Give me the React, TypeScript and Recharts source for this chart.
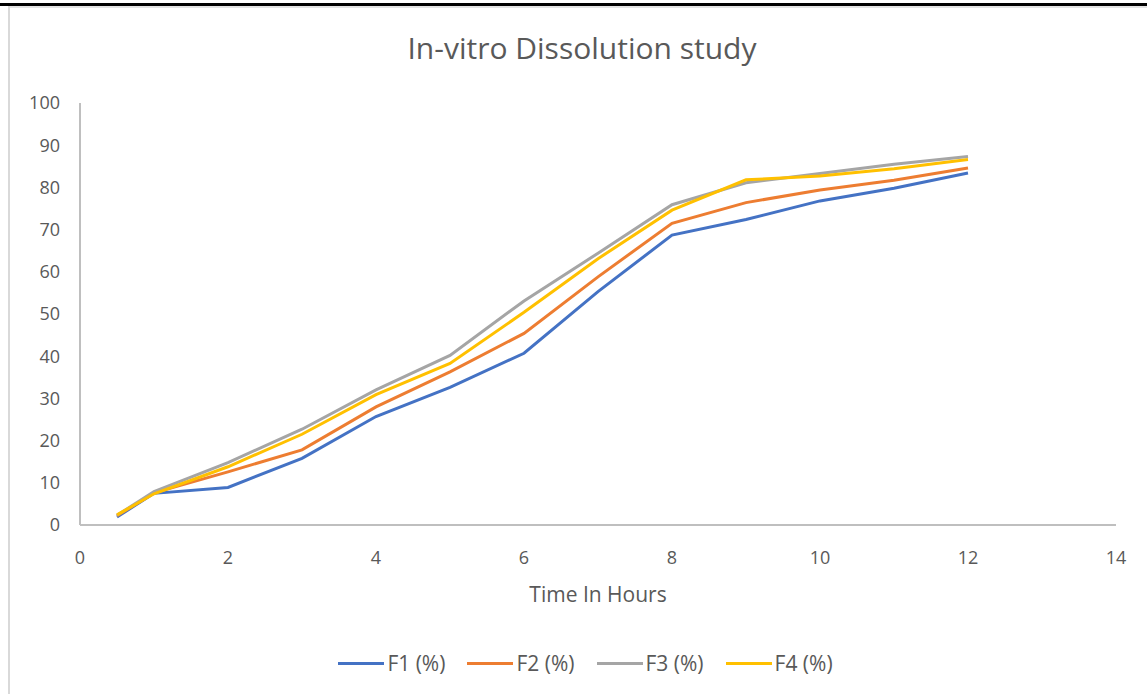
import { LineChart, Line, XAxis, YAxis, Legend, Label } from "recharts";

const hours = [0.5, 1, 2, 3, 4, 5, 6, 7, 8, 9, 10, 11, 12];
const f1 = [1.9, 7.5, 8.9, 15.8, 25.7, 32.6, 40.7, 55.3, 68.7, 72.4, 76.8, 79.8, 83.4];
const f2 = [2.2, 7.6, 12.6, 17.8, 28.0, 36.3, 45.4, 58.8, 71.5, 76.4, 79.4, 81.7, 84.6];
const f3 = [2.3, 7.9, 14.8, 22.7, 32.0, 40.2, 53.1, 64.4, 75.9, 81.1, 83.3, 85.5, 87.3];
const f4 = [2.4, 7.4, 13.8, 21.5, 30.9, 38.3, 50.4, 63.1, 74.6, 81.8, 82.7, 84.4, 86.6];
const xTicks = [0, 2, 4, 6, 8, 10, 12, 14];
const yTicks = [0, 10, 20, 30, 40, 50, 60, 70, 80, 90, 100];

const seriesNames = ["F1 (%)", "F2 (%)", "F3 (%)", "F4 (%)"];
const seriesColors = ["#4472C4", "#ED7D31", "#A5A5A5", "#FFC000"];

const rows = hours.map((h, i) => ({ h, f1: f1[i], f2: f2[i], f3: f3[i], f4: f4[i] }));
const keys = ["f1", "f2", "f3", "f4"];

const font = "'Open Sans', sans-serif";
const textGrey = "#595959";

function LegendRow() {
  return (
    <div style={{ display: "flex", justifyContent: "center", gap: 22, fontFamily: font, fontSize: 21, color: textGrey, paddingLeft: 24 }}>
      {seriesNames.map((name, i) => (
        <div key={name} style={{ display: "flex", alignItems: "center" }}>
          <span style={{ width: 46, height: 3, background: seriesColors[i], display: "inline-block", marginRight: 3 }} />
          <span>{name}</span>
        </div>
      ))}
    </div>
  );
}

export default function App() {
  return (
    <div style={{ position: "absolute", left: 0, top: 0, width: 1147, height: 694, background: "#fff", overflow: "hidden" }}>
      {/* cropped page edge above the chart */}
      <div style={{ position: "absolute", left: 0, top: 3, width: 1147, height: 3, background: "#000" }} />
      <div style={{ position: "absolute", left: 8, top: 6, width: 1139, height: 2, background: "#e3e3e3" }} />
      <div style={{ position: "absolute", left: 8, top: 6, width: 2, height: 688, background: "#d9d9d9" }} />
      <div
        style={{
          position: "absolute",
          left: 0,
          top: 27,
          width: 1164,
          textAlign: "center",
          fontFamily: font,
          fontSize: 30,
          color: textGrey,
        }}
      >
        In-vitro Dissolution study
      </div>
      <LineChart width={1147} height={694} data={rows} margin={{ top: 103, right: 31, left: 0, bottom: 79 }}>
        <XAxis
          dataKey="h"
          type="number"
          domain={[0, 14]}
          ticks={xTicks}
          height={50}
          tickLine={false}
          tickMargin={20}
          stroke="#BFBFBF"
          strokeWidth={2}
          tick={{ fill: textGrey, fontSize: 18, fontFamily: font }}
        >
          <Label value="Time In Hours" position="bottom" offset={12} style={{ fill: textGrey, fontSize: 21, fontFamily: font }} />
        </XAxis>
        <YAxis
          type="number"
          domain={[0, 100]}
          ticks={yTicks}
          width={80}
          tickLine={false}
          tickMargin={14}
          stroke="#BFBFBF"
          strokeWidth={2}
          tick={{ fill: textGrey, fontSize: 18, fontFamily: font }}
        />
        {keys.map((k, i) => (
          <Line
            key={k}
            dataKey={k}
            name={seriesNames[i]}
            stroke={seriesColors[i]}
            strokeWidth={3}
            dot={false}
            isAnimationActive={false}
          />
        ))}
        <Legend height={40} wrapperStyle={{ bottom: 5, left: 0, width: 1147 }} content={() => <LegendRow />} />
      </LineChart>
    </div>
  );
}
